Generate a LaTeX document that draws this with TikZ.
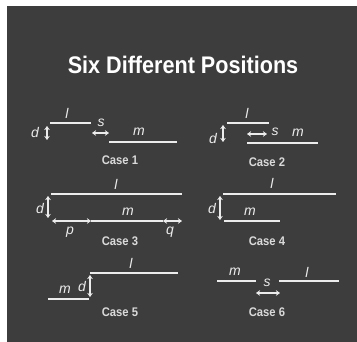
\documentclass[tikz,border=0pt]{standalone}
\usepackage{fontspec}
\setmainfont{Liberation Sans}
\usetikzlibrary{arrows.meta,positioning}

\definecolor{slate}{HTML}{3D3D3D}
\definecolor{linegray}{HTML}{ECECEC}
\definecolor{capgray}{HTML}{DADADA}

\tikzset{
  seg/.style={draw=linegray, line width=2.6pt},
  dimarrow/.style={draw=linegray, line width=1.1pt,
    {Stealth[length=4pt,width=5.5pt]}-{Stealth[length=4pt,width=5.5pt]}},
  lbl/.style={text=linegray, inner sep=0pt,
    font=\fontsize{14}{14}\selectfont\itshape},
  casename/.style={text=capgray, inner sep=0pt, xscale=0.9,
    font=\fontsize{12.5}{13}\selectfont\bfseries},
}

\begin{document}
\begin{tikzpicture}[x=1pt, y=-1pt]
    \fill[white] (0,0) rectangle (357,342);
    \fill[slate] (7,6) rectangle (357,342);
    \useasboundingbox (0,0) rectangle (357,342);

    \node[text=white, inner sep=0pt, xscale=0.9,
      font=\fontsize{24}{26}\selectfont\bfseries] (title) at (183,65)
      {Six Different Positions};

    % case 1
    \coordinate (l1a) at (50,123);  \coordinate (l1b) at (91,123);
    \coordinate (m1a) at (109,142); \coordinate (m1b) at (177,142);
    \coordinate (d1a) at (47,126);  \coordinate (d1b) at (47,140);
    \coordinate (s1a) at (92,133);  \coordinate (s1b) at (109,133);
    \draw[seg] (l1a) -- (l1b);
    \draw[seg] (m1a) -- (m1b);
    \draw[dimarrow] (d1a) -- (d1b);
    \draw[dimarrow] (s1a) -- (s1b);
    \node[lbl] (l1) at (67,113) {l};
    \node[lbl] (m1) at (139,132) {m};
    \node[lbl] (d1) at (35,133) {d};
    \node[lbl] (s1) at (101,123) {s};
    \node[casename] (case1) at (120,160) {Case 1};

    % case 2
    \coordinate (l2a) at (227,123); \coordinate (l2b) at (269,123);
    \coordinate (m2a) at (247,143); \coordinate (m2b) at (318,143);
    \coordinate (d2a) at (223,125); \coordinate (d2b) at (223,142);
    \coordinate (s2a) at (247,134); \coordinate (s2b) at (267,134);
    \draw[seg] (l2a) -- (l2b);
    \draw[seg] (m2a) -- (m2b);
    \draw[dimarrow] (d2a) -- (d2b);
    \draw[dimarrow] (s2a) -- (s2b);
    \node[lbl] (l2) at (247,113) {l};
    \node[lbl] (m2) at (298,133) {m};
    \node[lbl] (d2) at (213,139) {d};
    \node[lbl] (s2) at (275,132) {s};
    \node[casename] (case2) at (267,162) {Case 2};

    % case 3
    \coordinate (l3a) at (51,194);  \coordinate (l3b) at (182,194);
    \coordinate (p3a) at (52,221);  \coordinate (m3a) at (91,221);
    \coordinate (m3b) at (163,221); \coordinate (q3b) at (182,221);
    \coordinate (d3a) at (48,196);  \coordinate (d3b) at (48,218);
    \draw[seg] (l3a) -- (l3b);
    \draw[seg] (m3a) -- (m3b);
    \draw[dimarrow] (d3a) -- (d3b);
    \draw[dimarrow] (p3a) -- (m3a);
    \draw[dimarrow] (m3b) -- (q3b);
    \node[lbl] (l3) at (116,184) {l};
    \node[lbl] (m3) at (128,212) {m};
    \node[lbl] (d3) at (40,209) {d};
    \node[lbl] (p3) at (70,232) {p};
    \node[lbl] (q3) at (170,232) {q};
    \node[casename] (case3) at (120,241) {Case 3};

    % case 4
    \coordinate (l4a) at (223,194); \coordinate (l4b) at (336,194);
    \coordinate (m4a) at (224,221); \coordinate (m4b) at (280,221);
    \coordinate (d4a) at (220,196); \coordinate (d4b) at (220,220);
    \draw[seg] (l4a) -- (l4b);
    \draw[seg] (m4a) -- (m4b);
    \draw[dimarrow] (d4a) -- (d4b);
    \node[lbl] (l4) at (272,183) {l};
    \node[lbl] (m4) at (250,212) {m};
    \node[lbl] (d4) at (212,209) {d};
    \node[casename] (case4) at (267,241) {Case 4};

    % case 5
    \coordinate (l5a) at (90,273);  \coordinate (l5b) at (178,273);
    \coordinate (m5a) at (48,299);  \coordinate (m5b) at (89,299);
    \coordinate (d5a) at (90,275);  \coordinate (d5b) at (90,297);
    \draw[seg] (l5a) -- (l5b);
    \draw[seg] (m5a) -- (m5b);
    \draw[dimarrow] (d5a) -- (d5b);
    \node[lbl] (l5) at (131,263) {l};
    \node[lbl] (m5) at (65,290) {m};
    \node[lbl] (d5) at (82,287) {d};
    \node[casename] (case5) at (120,312) {Case 5};

    % case 6
    \coordinate (m6a) at (217,281); \coordinate (m6b) at (256,281);
    \coordinate (l6a) at (279,281); \coordinate (l6b) at (339,281);
    \coordinate (s6a) at (256,293); \coordinate (s6b) at (280,293);
    \draw[seg] (m6a) -- (m6b);
    \draw[seg] (l6a) -- (l6b);
    \draw[dimarrow] (s6a) -- (s6b);
    \node[lbl] (m6) at (235,272) {m};
    \node[lbl] (l6) at (307,272) {l};
    \node[lbl] (s6) at (267,283) {s};
    \node[casename] (case6) at (267,312) {Case 6};
\end{tikzpicture}
\end{document}
